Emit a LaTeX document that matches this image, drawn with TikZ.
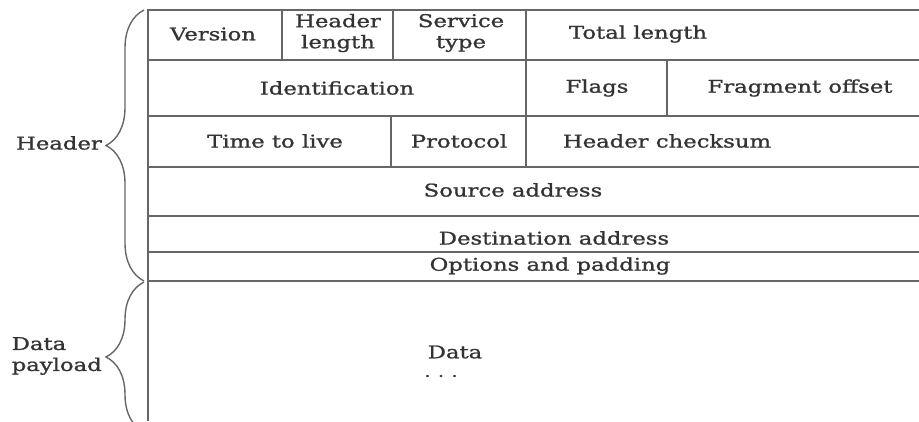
\documentclass[tikz,border=0pt]{standalone}
\usepackage{fontspec}
\setmainfont{DejaVu Serif}[FakeStretch=1.3, FakeBold=1.2]
\usetikzlibrary{decorations.pathreplacing}
\definecolor{rulegray}{HTML}{666666}
\definecolor{textgray}{HTML}{333333}

\begin{document}
\begin{tikzpicture}[x=1pt, y=-1pt,
    every node/.style={text=textgray, inner sep=0pt, align=center, font=\fontsize{17.5}{21}\selectfont},
    rule/.style={draw=rulegray, line width=1.5pt},
    bracket/.style={draw=rulegray, line width=1.4pt, decorate, decoration={brace, amplitude=38pt}}]

    \useasboundingbox (0,0) rectangle (919,421);

    % Frame and row lines
    \draw[rule] (919,10) -- (148,10) -- (148,421);
    \foreach \y in {60,116,167,216,252,281}
        \draw[rule] (148,\y) -- (919,\y);

    % Column lines
    \draw[rule] (282,10) -- (282,60);
    \draw[rule] (393,10) -- (393,60);
    \draw[rule] (526,10) -- (526,167);
    \draw[rule] (667,60) -- (667,116);
    \draw[rule] (391,116) -- (391,167);

    % First row
    \node (version) at (213,34) {Version};
    \node (hlen) at (338,33) {Header\\length};
    \node (tos) at (461,33) {Service\\type};
    \node (total) at (638,34) {Total length};

    % Second row
    \node (ident) at (337,88) {Identification};
    \node (flags) at (597,88) {Flags};
    \node (frag) at (800,88) {Fragment offset};

    % Third row
    \node (ttl) at (275,141) {Time to live};
    \node (proto) at (459,141) {Protocol};
    \node (csum) at (667,141) {Header checksum};

    % Addresses and options
    \node (src) at (513,190) {Source address};
    \node (dst) at (554,238) {Destination address};
    \node (opts) at (550,266) {Options and padding};

    % Payload
    \node (data) at (455,352) {Data};
    \node[font=\fontsize{14}{16}\selectfont] (dots) at (441,376) {. . .};

    % Braces and their labels
    \draw[bracket] (144,281) -- (144,10);
    \draw[bracket] (144,432) -- (144,282);
    \node[anchor=east] (header) at (102,143) {Header};
    \node[anchor=east, align=left] (payload) at (102,356) {Data\\payload};
\end{tikzpicture}
\end{document}
